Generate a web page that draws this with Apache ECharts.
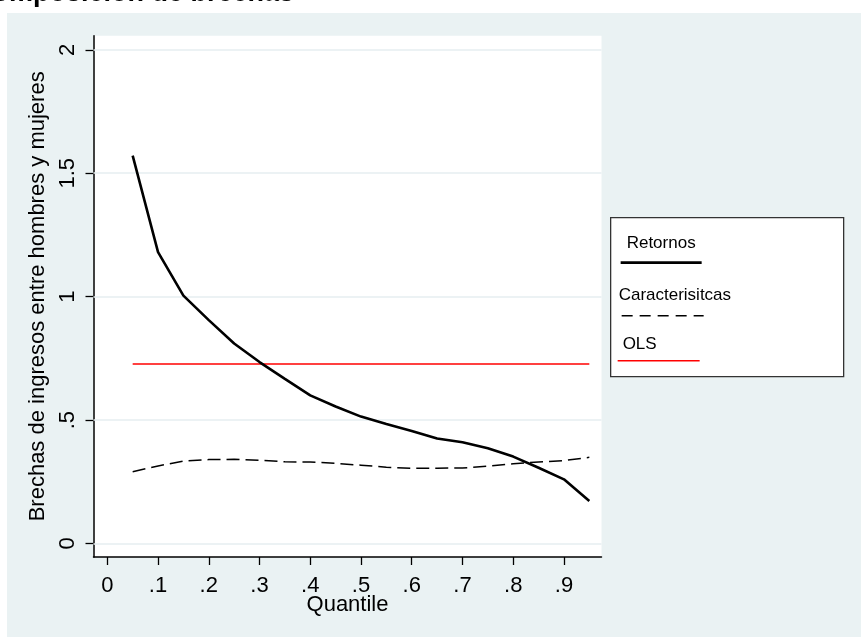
<!DOCTYPE html>
<html>
<head>
<meta charset="utf-8">
<script src="https://cdn.jsdelivr.net/npm/echarts@6/dist/echarts.min.js"></script>
<style>
  html, body { margin: 0; padding: 0; background: #ffffff; }
  #wrap { position: relative; width: 861px; height: 637px; overflow: hidden; }
  #panel { position: absolute; left: 7px; top: 13px; right: 0; bottom: 0; background: #eaf2f3; }
  #chart { position: absolute; left: 0; top: 0; width: 861px; height: 637px; }
</style>
</head>
<body>
<div id="wrap">
  <div id="panel"></div>
  <div id="chart"></div>
</div>
<script>
// Quantiles at which the gap decomposition was estimated
const quantiles = [0.05, 0.10, 0.15, 0.20, 0.25, 0.30, 0.35, 0.40, 0.45, 0.50,
                   0.55, 0.60, 0.65, 0.70, 0.75, 0.80, 0.85, 0.90, 0.95];
// Returns (coefficients) component of the gap
const retornos = [1.571, 1.18, 1.004, 0.905, 0.81, 0.735, 0.667, 0.60, 0.555, 0.514,
                  0.484, 0.456, 0.425, 0.41, 0.386, 0.352, 0.307, 0.26, 0.172];
// Characteristics (endowments) component of the gap
const caracteristicas = [0.291, 0.314, 0.334, 0.34, 0.341, 0.337, 0.331, 0.33, 0.325, 0.317,
                         0.309, 0.305, 0.305, 0.306, 0.313, 0.323, 0.33, 0.336, 0.349];
// OLS mean gap, drawn over the quantile range
const olsValue = 0.727;
const olsRange = [0.05, 0.95];

const xTicks = [0, 0.1, 0.2, 0.3, 0.4, 0.5, 0.6, 0.7, 0.8, 0.9];
const xTickLabels = ['0', '.1', '.2', '.3', '.4', '.5', '.6', '.7', '.8', '.9'];
const yTicks = [0, 0.5, 1, 1.5, 2];
const yTickLabels = ['0', '.5', '1', '1.5', '2'];

const FONT = 'Liberation Sans, Arial, sans-serif';
const GRID_COLOR = '#e6eef1';

const pairs = (xs, ys) => xs.map((x, i) => [x, ys[i]]);
const labelFor = (ticks, labels) => v => {
  const i = ticks.findIndex(t => Math.abs(t - v) < 1e-9);
  return i >= 0 ? labels[i] : '';
};

const chart = echarts.init(document.getElementById('chart'), null, { renderer: 'canvas' });

chart.setOption({
  backgroundColor: 'transparent',
  animation: false,
  grid: {
    left: 93.5, right: 259.5, top: 35.7, bottom: 80,
    show: true, backgroundColor: '#ffffff', borderWidth: 0
  },
  xAxis: {
    type: 'value',
    min: -0.0272, max: 0.974,
    name: 'Quantile',
    nameLocation: 'middle',
    nameGap: 37,
    nameMoveOverlap: false,
    nameTextStyle: { fontFamily: FONT, fontSize: 22, color: '#000' },
    axisLine: { show: true, onZero: false, lineStyle: { color: '#000', width: 1.5 } },
    axisTick: { show: true, length: 8, lineStyle: { color: '#000', width: 1.3 }, customValues: xTicks },
    axisLabel: {
      fontFamily: FONT, fontSize: 22, color: '#000', margin: 18,
      customValues: xTicks, formatter: labelFor(xTicks, xTickLabels)
    },
    splitLine: { show: false }
  },
  yAxis: {
    type: 'value',
    min: -0.0547, max: 2.057,
    name: 'Brechas de ingresos entre hombres y mujeres',
    nameLocation: 'middle',
    nameGap: 43,
    nameTextStyle: { fontFamily: FONT, fontSize: 22, color: '#000' },
    axisLine: { show: true, onZero: false, lineStyle: { color: '#000', width: 1.5 } },
    axisTick: { show: true, length: 8, lineStyle: { color: '#000', width: 1.3 }, customValues: yTicks },
    axisLabel: {
      fontFamily: FONT, fontSize: 22, color: '#000', margin: 15, rotate: 90,
      customValues: yTicks, formatter: labelFor(yTicks, yTickLabels)
    },
    splitLine: { show: false }
  },
  series: [
    {
      // horizontal reference lines at the y ticks
      name: 'grid', type: 'line', data: [], silent: true,
      markLine: {
        silent: true, symbol: 'none', label: { show: false },
        lineStyle: { color: GRID_COLOR, width: 1.5, type: 'solid' },
        data: yTicks.map(v => ({ yAxis: v }))
      },
      z: 1
    },
    {
      name: 'Retornos', type: 'line', data: pairs(quantiles, retornos),
      showSymbol: false, lineStyle: { color: '#000', width: 2.6 }, z: 5
    },
    {
      name: 'Caracterisitcas', type: 'line', data: pairs(quantiles, caracteristicas),
      showSymbol: false, lineStyle: { color: '#000', width: 1.5, type: [13, 6] }, z: 4
    },
    {
      name: 'OLS', type: 'line', data: olsRange.map(x => [x, olsValue]),
      showSymbol: false, lineStyle: { color: '#ff0000', width: 1.5 }, z: 3
    }
  ],
  graphic: [
    {
      type: 'text', x: 294, y: 7, z: 10,
      style: {
        text: 'Descomposición de brechas', fill: '#000',
        font: 'bold 27px ' + FONT, align: 'right', verticalAlign: 'bottom'
      }
    },
    {
      type: 'group', left: 610, top: 217, z: 10,
      children: [
        { type: 'rect', shape: { x: 0, y: 0, width: 233, height: 159 },
          style: { fill: '#ffffff', stroke: '#333', lineWidth: 1.3 } },
        { type: 'text', x: 16, y: 26, style: { text: 'Retornos', font: '17px ' + FONT, fill: '#000', verticalAlign: 'middle' } },
        { type: 'line', shape: { x1: 10, y1: 45, x2: 91, y2: 45 }, style: { stroke: '#000', lineWidth: 2.6 } },
        { type: 'text', x: 8, y: 78, style: { text: 'Caracterisitcas', font: '17px ' + FONT, fill: '#000', verticalAlign: 'middle' } },
        { type: 'line', shape: { x1: 11, y1: 98, x2: 93, y2: 98 }, style: { stroke: '#000', lineWidth: 1.5, lineDash: [11, 7] } },
        { type: 'text', x: 12, y: 127, style: { text: 'OLS', font: '17px ' + FONT, fill: '#000', verticalAlign: 'middle' } },
        { type: 'line', shape: { x1: 7, y1: 143, x2: 89, y2: 143 }, style: { stroke: '#ff0000', lineWidth: 1.5 } }
      ]
    }
  ]
});
</script>
</body>
</html>
